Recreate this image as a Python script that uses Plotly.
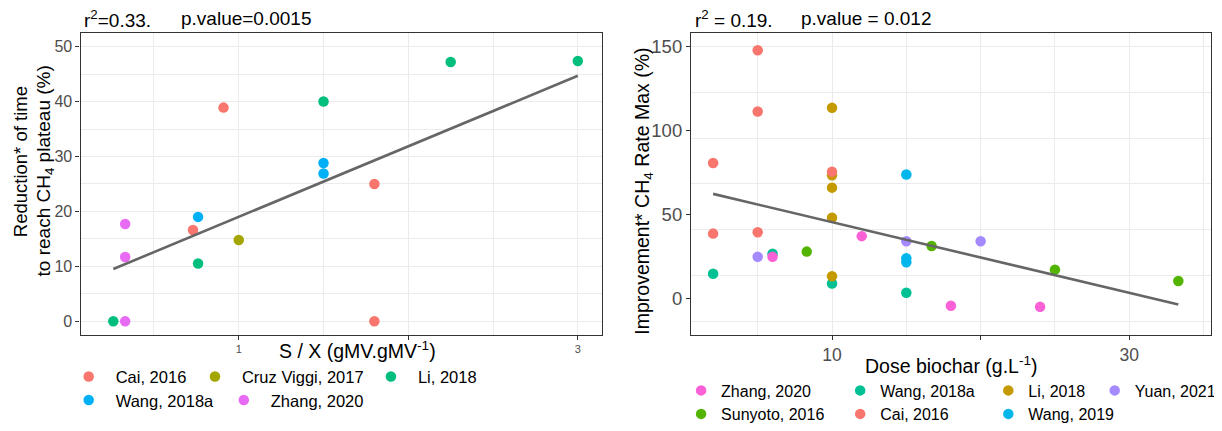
import plotly.graph_objects as go

# the page body adds an 8px margin, so the figure is drawn 8px smaller and
# all layout positions are given in window pixels then converted
OFF = 8
W, H = 1222 - OFF, 431 - OFF
FONT = "Liberation Sans, Arial, sans-serif"

# ---------------- Left panel data ----------------
left_studies = ["Cai, 2016", "Cruz Viggi, 2017", "Li, 2018", "Wang, 2018a", "Zhang, 2020"]
left_colors = ["#F8766D", "#A3A500", "#00BF7D", "#00B0F6", "#E76BF3"]
left_x = {
    "Cai, 2016": [0.91, 0.73, 1.80, 1.80],
    "Cruz Viggi, 2017": [1.00],
    "Li, 2018": [0.26, 0.76, 1.50, 2.25, 3.00],
    "Wang, 2018a": [0.76, 1.50, 1.50],
    "Zhang, 2020": [0.33, 0.33, 0.33],
}
left_y = {
    "Cai, 2016": [38.9, 16.6, 25.0, 0.0],
    "Cruz Viggi, 2017": [14.8],
    "Li, 2018": [0.0, 10.5, 40.0, 47.2, 47.4],
    "Wang, 2018a": [19.0, 28.8, 26.9],
    "Zhang, 2020": [0.0, 11.7, 17.7],
}
left_fit_x = [0.26, 3.00]
left_fit_y = [9.5, 44.7]
left_xticks = [1, 2, 3]
left_xticktext = ["1", "", "3"]

# ---------------- Right panel data ----------------
right_studies = ["Wang, 2018a", "Li, 2018", "Cai, 2016", "Yuan, 2021",
                 "Sunyoto, 2016", "Wang, 2019", "Zhang, 2020"]
right_colors = {
    "Cai, 2016": "#F8766D", "Li, 2018": "#C49A00", "Sunyoto, 2016": "#53B400",
    "Wang, 2018a": "#00C094", "Wang, 2019": "#00B6EB", "Yuan, 2021": "#A58AFF",
    "Zhang, 2020": "#FB61D7",
}
right_x = {
    "Zhang, 2020": [6, 12, 18, 24],
    "Wang, 2018a": [2, 6, 10, 15],
    "Li, 2018": [10, 10, 10, 10, 10],
    "Yuan, 2021": [5, 15, 20],
    "Sunyoto, 2016": [8.3, 16.7, 25, 33.3],
    "Cai, 2016": [2, 2, 5, 5, 5, 10],
    "Wang, 2019": [15, 15, 15],
}
right_y = {
    "Zhang, 2020": [24.8, 37.1, -4.3, -4.9],
    "Wang, 2018a": [14.8, 26.7, 9.0, 3.5],
    "Li, 2018": [113.3, 73.3, 65.9, 48.0, 13.3],
    "Yuan, 2021": [24.8, 34.1, 34.1],
    "Sunyoto, 2016": [27.9, 31.2, 17.2, 10.4],
    "Cai, 2016": [80.5, 38.6, 147.5, 111.1, 39.4, 75.3],
    "Wang, 2019": [73.7, 24.0, 21.6],
}
right_fit_x = [2.0, 33.3]
right_fit_y = [62.2, -3.5]
right_xticks = [10, 20, 30]
right_xticktext = ["10", "", "30"]
right_yticks = [0, 50, 100, 150]


def px(v):
    return (v - OFF) / W


def py(v):
    return 1 - (v - OFF) / H


# legend placements (marker px x, row px y)
left_leg_pos = {
    "Cai, 2016": (89, 382), "Cruz Viggi, 2017": (216, 382), "Li, 2018": (393, 382),
    "Wang, 2018a": (89, 406), "Zhang, 2020": (245, 406),
}
right_leg_pos = {
    "Zhang, 2020": (709, 396), "Wang, 2018a": (869, 396), "Li, 2018": (1018, 396),
    "Yuan, 2021": (1125, 396), "Sunyoto, 2016": (709, 420), "Cai, 2016": (869, 420),
    "Wang, 2019": (1018, 420),
}

fig = go.Figure()
legends = {}
n = 0

for name, col in zip(left_studies, left_colors):
    n += 1
    lid = "legend" if n == 1 else f"legend{n}"
    fig.add_trace(go.Scatter(
        x=left_x[name], y=left_y[name], mode="markers", name=name,
        marker=dict(color=col, size=10.5), xaxis="x", yaxis="y", legend=lid,
        hoverinfo="x+y+name"))
    mx, my = left_leg_pos[name]
    legends[lid] = dict(x=px(mx - 27), y=py(my), xanchor="left", yanchor="middle",
                        itemwidth=44, bgcolor="rgba(0,0,0,0)",
                        font=dict(family=FONT, size=16.5, color="#000000"))

fig.add_trace(go.Scatter(x=left_fit_x, y=left_fit_y, mode="lines",
                         line=dict(color="#666666", width=2.6), showlegend=False,
                         xaxis="x", yaxis="y", hoverinfo="skip"))

for name in right_studies:
    n += 1
    lid = f"legend{n}"
    fig.add_trace(go.Scatter(
        x=right_x[name], y=right_y[name], mode="markers", name=name,
        marker=dict(color=right_colors[name], size=10.5), xaxis="x2", yaxis="y2",
        legend=lid, hoverinfo="x+y+name"))
    mx, my = right_leg_pos[name]
    legends[lid] = dict(x=px(mx - 24), y=py(my), xanchor="left", yanchor="middle",
                        bgcolor="rgba(0,0,0,0)",
                        font=dict(family=FONT, size=16, color="#000000"))

fig.add_trace(go.Scatter(x=right_fit_x, y=right_fit_y, mode="lines",
                         line=dict(color="#666666", width=2.6), showlegend=False,
                         xaxis="x2", yaxis="y2", hoverinfo="skip"))

GRID = "#EBEBEB"
LINE = "#333333"
TICKC = "#4D4D4D"

axis_common = dict(showline=True, linecolor=LINE, linewidth=1.3, mirror=True,
                   ticks="outside", ticklen=4, tickcolor=LINE, tickwidth=1,
                   gridcolor=GRID, gridwidth=1, zeroline=False)

fig.update_layout(
    width=W, height=H, margin=dict(l=0, r=0, t=0, b=0),
    paper_bgcolor="white", plot_bgcolor="white",
    font=dict(family=FONT, color="#000000"),
    xaxis=dict(domain=[px(81), px(605)], range=[0.067, 3.14], anchor="y",
               tickmode="array", tickvals=left_xticks, ticktext=left_xticktext,
               tickfont=dict(size=11, color=TICKC), showgrid=True,
               minor=dict(tickmode="linear", tick0=0, dtick=0.5, showgrid=True,
                          gridcolor=GRID, gridwidth=1, ticks=""),
               **axis_common),
    yaxis=dict(domain=[py(339.3), py(33.3)], range=[-2.44, 52.5], anchor="x",
               dtick=10, tick0=0, tickfont=dict(size=16, color=TICKC), showgrid=True,
               minor=dict(tickmode="linear", tick0=0, dtick=5, showgrid=True,
                          gridcolor=GRID, gridwidth=1, ticks=""),
               **axis_common),
    xaxis2=dict(domain=[px(695), px(1218.3)], range=[0.515, 35.52], anchor="y2",
                tickmode="array", tickvals=right_xticks, ticktext=right_xticktext,
                tickfont=dict(size=17.5, color=TICKC), showgrid=True,
                minor=dict(tickmode="linear", tick0=0, dtick=5, showgrid=True,
                           gridcolor=GRID, gridwidth=1, ticks=""),
                **axis_common),
    yaxis2=dict(domain=[py(340), py(33.3)], range=[-21.8, 157.8], anchor="x2",
                tickmode="array", tickvals=right_yticks,
                tickfont=dict(size=18.5, color=TICKC), showgrid=False,
                minor=dict(tickmode="linear", tick0=149.7, dtick=27.2, showgrid=True,
                           gridcolor=GRID, gridwidth=1, ticks=""),
                **axis_common),
    showlegend=True,
    **legends,
)

ann = []


def add_text(text, x, y, size, xanchor="center", yanchor="middle", angle=0):
    ann.append(dict(text=text, x=px(x), y=py(y), xref="paper", yref="paper",
                    xanchor=xanchor, yanchor=yanchor, textangle=angle,
                    showarrow=False, font=dict(family=FONT, size=size, color="#000000")))


# panel captions
add_text("r<sup>2</sup>=0.33.", 82, 19, 19, xanchor="left")
add_text("p.value=0.0015", 180, 19, 19, xanchor="left")
add_text("r<sup>2</sup> = 0.19.", 697, 19, 19, xanchor="left")
add_text("p.value = 0.012", 804, 19, 19, xanchor="left")

# axis titles
add_text("Reduction* of time", 20.5, 164, 18.5, angle=-90)
add_text("to reach CH<sub>4</sub> plateau (%)", 45, 173, 19, angle=-90)
add_text("S / X (gMV.gMV<sup>-1</sup>)", 360, 355, 19.5)
add_text("Improvement* CH<sub>4</sub> Rate Max (%)", 647, 194, 19.5, angle=-90)
add_text("Dose biochar (g.L<sup>-1</sup>)", 957, 370, 19.5)

fig.update_layout(annotations=ann)

fig.write_html("out.html")
